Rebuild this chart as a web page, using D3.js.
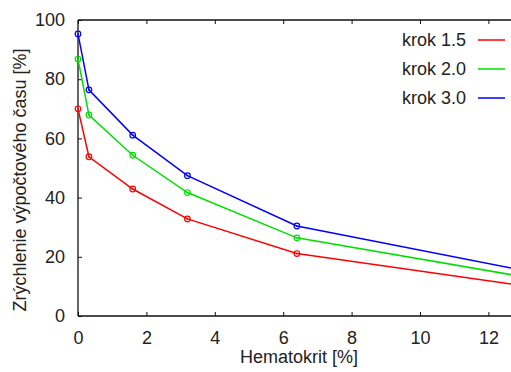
<!DOCTYPE html>
<html><head><meta charset="utf-8">
<script src="https://cdn.jsdelivr.net/npm/d3@7"></script>
<style>body{margin:0;background:#fff}svg{display:block}text{font-family:"Liberation Sans",Arial,sans-serif;fill:#222}</style>
</head><body><svg id="c" width="511" height="372"></svg>
<script>
const hematokrit = [0, 0.32, 1.6, 3.2, 6.4, 12.8];
const krok15 = [70.0, 53.8, 42.9, 32.8, 21.1, 10.6];
const krok20 = [86.8, 67.9, 54.3, 41.7, 26.4, 13.7];
const krok30 = [95.3, 76.4, 61.1, 47.4, 30.4, 15.9];
const seriesNames = ["krok 1.5", "krok 2.0", "krok 3.0"];
const seriesColors = ["#ff0000", "#00e000", "#0000ff"];
const xTicks = [0, 2, 4, 6, 8, 10, 12];
const yTicks = [0, 20, 40, 60, 80, 100];

const series = [krok15, krok20, krok30];
const svg = d3.select("#c");
const L = 78, T = 20, B = 316;
const FS = 18;
const x = d3.scaleLinear().domain([0, 12.8]).range([L, L + 12.8 * 34.2]);
const y = d3.scaleLinear().domain([0, 100]).range([B, T]);
const R = x(12.8);

svg.append("clipPath").attr("id","clip").append("rect").attr("x",L).attr("y",T).attr("width",R-L).attr("height",B-T);

const gx = svg.append("g").attr("transform",`translate(0,${B})`)
  .call(d3.axisBottom(x).tickValues(xTicks).tickSize(-4).tickPadding(15).tickFormat(d3.format("d")));
const gxt = svg.append("g").attr("transform",`translate(0,${T})`)
  .call(d3.axisTop(x).tickValues(xTicks).tickSize(-4).tickFormat(""));
const gy = svg.append("g").attr("transform",`translate(${L},0)`)
  .call(d3.axisLeft(y).tickValues(yTicks).tickSize(-4).tickPadding(13).tickFormat(d3.format("d")));
[gx,gxt,gy].forEach(g=>{
  g.select(".domain").attr("stroke","#111").attr("stroke-width",1.3);
  g.selectAll(".tick line").attr("stroke","#111").attr("stroke-width",1);
  g.selectAll("text").attr("font-size",FS).attr("font-family","Liberation Sans, Arial, sans-serif").attr("fill","#222");
});
gx.selectAll(".domain").attr("d",`M${L},0H${R}`);
gxt.selectAll(".domain").attr("d",`M${L},0H${R}`);
gy.selectAll(".domain").attr("d",`M0,${B}V${T}`);

const line = d3.line().x((d,i)=>x(hematokrit[i])).y(d=>y(d));
const plot = svg.append("g").attr("clip-path","url(#clip)");
series.forEach((s,k)=>{
  plot.append("path").attr("d",line(s)).attr("fill","none").attr("stroke",seriesColors[k]).attr("stroke-width",1.5);
  s.forEach((v,i)=>{
    svg.append("circle").attr("cx",x(hematokrit[i])).attr("cy",y(v)).attr("r",2.8)
      .attr("fill","none").attr("stroke",seriesColors[k]).attr("stroke-width",1.2);
    svg.append("circle").attr("cx",x(hematokrit[i])).attr("cy",y(v)).attr("r",0.9)
      .attr("fill",seriesColors[k]);
  });
});

seriesNames.forEach((n,k)=>{
  const yy = 40 + k*29;
  svg.append("text").attr("x",466).attr("y",yy).attr("dy","0.36em").attr("text-anchor","end").attr("font-size",FS).text(n);
  svg.append("line").attr("x1",478).attr("x2",505).attr("y1",yy).attr("y2",yy).attr("stroke",seriesColors[k]).attr("stroke-width",1.5);
});

svg.append("text").attr("x",299).attr("y",363).attr("text-anchor","middle").attr("font-size",FS).text("Hematokrit [%]");
svg.append("text").attr("transform","translate(26,180) rotate(-90)").attr("text-anchor","middle").attr("font-size",FS).text("Zrýchlenie výpočtového času [%]");
</script></body></html>
